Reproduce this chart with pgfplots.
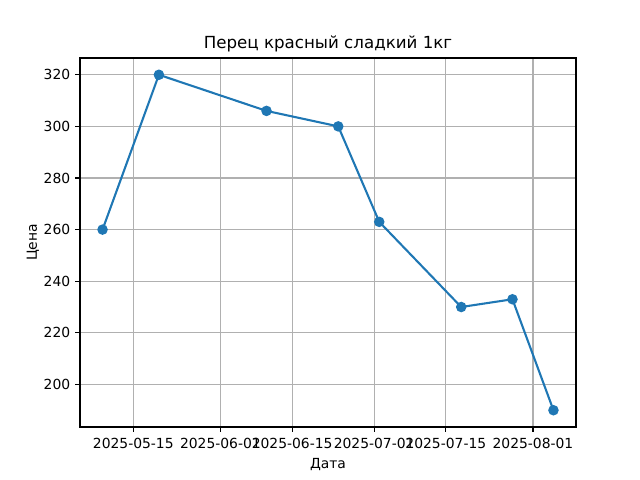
\documentclass[border=0pt]{standalone}
\usepackage{fontspec}
\setmainfont{DejaVu Sans}
\usepackage{pgfplots}
\pgfplotsset{compat=1.18}
\definecolor{mplblue}{HTML}{1F77B4}
\definecolor{gridgray}{HTML}{B0B0B0}
\begin{document}
\begin{tikzpicture}
\path[use as bounding box] (-57.6pt,-38.16pt) rectangle (357.12pt+46.08pt,265.68pt+41.76pt);
\begin{axis}[
  at={(0,0)}, anchor=south west,
  scale only axis,
  width=357.12pt, height=265.68pt,
  xmin=-10.4, xmax=86.4,
  ymin=183.5, ymax=326.5,
  xtick={0,17,31,47,61,78},
  xticklabels={2025-05-15,2025-06-01,2025-06-15,2025-07-01,2025-07-15,2025-08-01},
  ytick={200,220,240,260,280,300,320},
  /pgf/number format/assume math mode=true,
  tick label style={font=\fontsize{10}{12}\selectfont},
  label style={font=\fontsize{10}{12}\selectfont},
  title style={font=\fontsize{12}{14}\selectfont, yshift=-5.5pt},
  ylabel style={yshift=-3.5pt},
  title={Перец красный сладкий 1кг},
  xlabel={Дата}, ylabel={Цена},
  grid=major,
  major grid style={gridgray, line width=0.8pt},
  axis line style={black, line width=0.8pt},
  tick style={black, line width=0.8pt},
  tick align=outside,
  major tick length=3.5pt,
  xtick pos=bottom, ytick pos=left,
  xticklabel style={yshift=-1pt},
]
\addplot[mplblue, line width=1.5pt, mark=*, mark size=3pt, mark options={fill=mplblue, draw=mplblue}]
coordinates {(-6,260) (5,320) (26,306) (40,300) (48,263) (64,230) (74,233) (82,190)};
\end{axis}
\end{tikzpicture}
\end{document}
